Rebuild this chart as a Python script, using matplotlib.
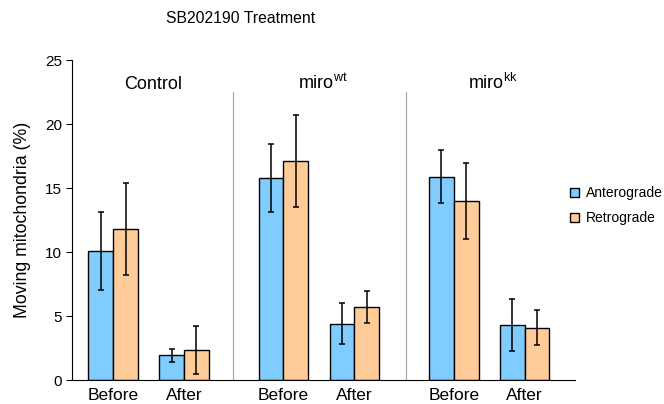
import numpy as np
from matplotlib import pyplot as plt

plt.rcParams['font.family'] = ['Liberation Sans', 'DejaVu Sans']
plt.rcParams['mathtext.fontset'] = 'custom'
plt.rcParams['mathtext.rm'] = 'Liberation Sans'

# data
groups = ['Control', 'miro$^{\\mathrm{wt}}$', 'miro$^{\\mathrm{kk}}$']
conditions = ['Before', 'After']
antero = [10.1, 1.93, 15.8, 4.4, 15.9, 4.3]
antero_err = [3.07, 0.51, 2.67, 1.6, 2.07, 2.07]
retro = [11.8, 2.34, 17.15, 5.7, 14.0, 4.1]
retro_err = [3.6, 1.87, 3.6, 1.25, 2.95, 1.4]

blue = '#80CCFF'
orange = '#FFCC99'

# x layout: pairs within a group 1 apart, groups 2.4 apart
x = np.array([g * 2.4 + c for g in range(3) for c in range(2)])
w = 0.35

fig = plt.figure(figsize=(6.64, 4.04), dpi=100)
ax = fig.add_axes([0.1084, 0.0594, 0.866 - 0.1084, 0.851 - 0.0594])

eb = dict(ecolor='black', elinewidth=1.1, capsize=2.5, capthick=1.1)
ax.bar(x - w / 2, antero, w, yerr=antero_err, color=blue, edgecolor='black',
       linewidth=1.0, label='Anterograde', error_kw=eb, zorder=2)
ax.bar(x + w / 2, retro, w, yerr=retro_err, color=orange, edgecolor='black',
       linewidth=1.0, label='Retrograde', error_kw=eb, zorder=2)

# group separators
for sx in [1.69, 4.13]:
    ax.plot([sx, sx], [0, 22.5], color='#aaaaaa', linewidth=0.9, zorder=1)

for g, name in enumerate(groups):
    ax.text(g * 2.4 + 0.56, 22.75, name, ha='center', va='baseline', fontsize=13)

ax.set_xlim(-0.58, 6.51)
ax.set_ylim(0, 25)
ax.set_yticks([0, 5, 10, 15, 20, 25])
ax.set_xticks(x)
ax.set_xticklabels(conditions * 3, fontsize=12.5)
ax.tick_params(axis='x', length=0, pad=6)
ax.tick_params(axis='y', labelsize=11, length=4, direction='out', pad=3)
ax.spines['top'].set_visible(False)
ax.spines['right'].set_visible(False)
ax.set_ylabel('Moving mitochondria (%)', fontsize=12.8, labelpad=10)

fig.text(0.362, 0.955, 'SB202190 Treatment', ha='center', va='center', fontsize=11.3)

ax.legend(loc='center left', bbox_to_anchor=(0.859, 0.491), bbox_transform=fig.transFigure,
          frameon=False, fontsize=10, handlelength=0.6, handleheight=0.6,
          handletextpad=0.5, labelspacing=0.8, borderpad=0, borderaxespad=0)

fig.savefig('out.png', dpi=100)
